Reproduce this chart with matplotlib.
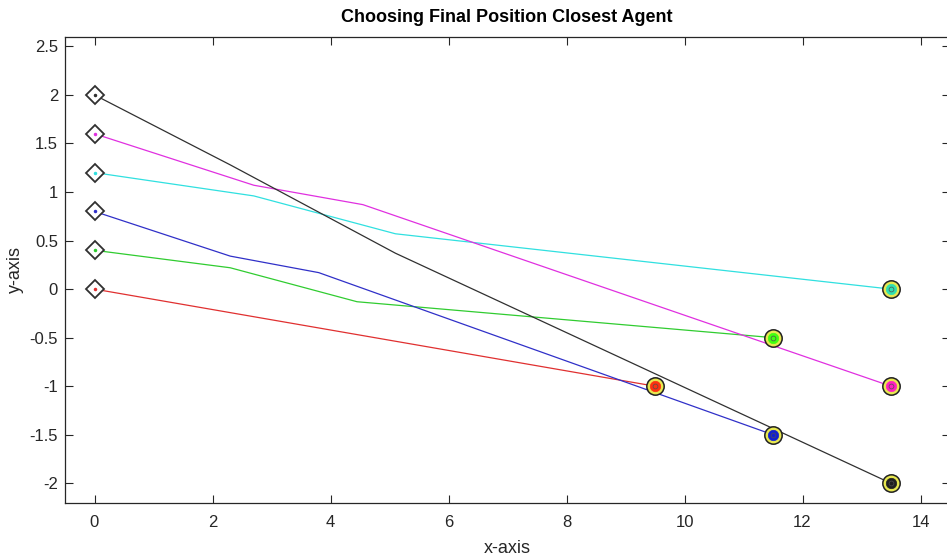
import matplotlib
matplotlib.use("Agg")
import matplotlib.pyplot as plt

plt.rcParams['font.family'] = ['Liberation Sans', 'DejaVu Sans']

# Agent trajectories (x, y) from start position to chosen final position
agent_names = ["red", "green", "blue", "cyan", "magenta", "black"]
path_x = {
    "red":     [0.0, 9.5],
    "green":   [0.0, 2.3, 4.45, 11.5],
    "blue":    [0.0, 2.3, 3.8, 11.5],
    "cyan":    [0.0, 2.7, 5.1, 13.5],
    "magenta": [0.0, 2.7, 4.55, 13.5],
    "black":   [0.0, 2.3, 5.1, 13.5],
}
path_y = {
    "red":     [0.0, -1.0],
    "green":   [0.4, 0.22, -0.13, -0.5],
    "blue":    [0.8, 0.34, 0.17, -1.5],
    "cyan":    [1.2, 0.96, 0.57, 0.0],
    "magenta": [1.6, 1.07, 0.87, -1.0],
    "black":   [2.0, 1.28, 0.37, -2.0],
}
line_colors = {
    "red": "#e03030", "green": "#30cc30", "blue": "#3030c8",
    "cyan": "#30e0e0", "magenta": "#e030e0", "black": "#303030",
}
final_colors = {
    "red": "#ff3010", "green": "#40ff10", "blue": "#1020d0",
    "cyan": "#30e0b0", "magenta": "#ff20c0", "black": "#202020",
}

y_ticks = [-2, -1.5, -1, -0.5, 0, 0.5, 1, 1.5, 2, 2.5]
y_tick_labels = ["-2", "-1.5", "-1", "-0.5", "0", "0.5", "1", "1.5", "2", "2.5"]
x_ticks = [0, 2, 4, 6, 8, 10, 12, 14]
x_tick_labels = ["0", "2", "4", "6", "8", "10", "12", "14"]

fig = plt.figure(figsize=(9.47, 5.58), dpi=100)
ax = fig.add_axes([65 / 947, 55.3 / 558, 885 / 947, 466 / 558])

for name in agent_names:
    xs, ys = path_x[name], path_y[name]
    ax.plot(xs, ys, color=line_colors[name], lw=0.9, zorder=2)
    # start marker
    ax.plot(xs[0], ys[0], marker="D", ms=9, mfc="white", mec="#303030",
            mew=1.3, zorder=3)
    ax.plot(xs[0], ys[0], marker="o", ms=1.5, color=line_colors[name], zorder=4)
    # final position marker
    ax.plot(xs[-1], ys[-1], marker="o", ms=12.5, mfc="#e8e850", mec="#202020",
            mew=1.1, zorder=3)
    ax.plot(xs[-1], ys[-1], marker="o", ms=7.5, mfc=final_colors[name],
            mec=final_colors[name], mew=0.5, zorder=4)
    ax.plot(xs[-1], ys[-1], marker="o", ms=3.5, mfc="none", mec="#505050",
            mew=0.5, zorder=5)

ax.set_xlim(-0.5, 14.5)
ax.set_ylim(-2.2, 2.6)
ax.set_xticks(x_ticks)
ax.set_xticklabels(x_tick_labels)
ax.set_yticks(y_ticks)
ax.set_yticklabels(y_tick_labels)
ax.tick_params(direction="in", length=6, width=0.8, colors="#262626",
               labelsize=12, top=True, right=True)
ax.tick_params(axis="x", pad=9)
ax.tick_params(axis="y", pad=5)
for sp in ax.spines.values():
    sp.set_color("#262626")
    sp.set_linewidth(0.9)

fig.text(507 / 947, 1 - 18 / 558, "Choosing Final Position Closest Agent",
         fontsize=13, fontweight="bold", color="black",
         ha="center", va="center")
ax.set_xlabel("x-axis", fontsize=13, color="#262626", labelpad=7)
ax.set_ylabel("y-axis", fontsize=13, color="#262626", labelpad=4)

fig.savefig("out.png", dpi=100)
